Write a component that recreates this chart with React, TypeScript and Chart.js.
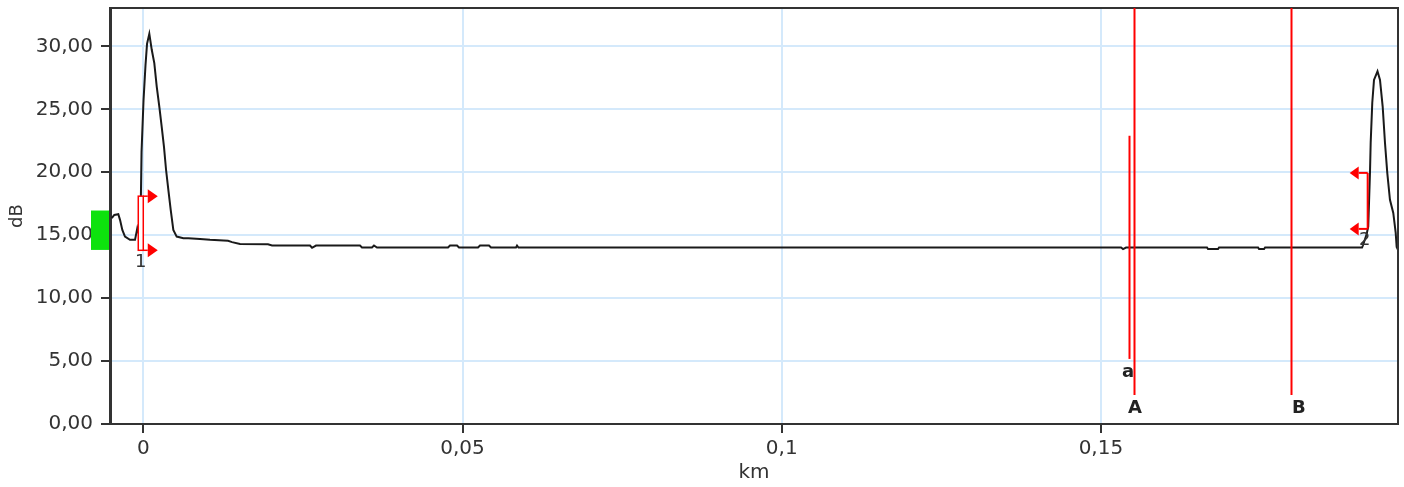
import React, { useEffect, useRef } from "react";
import { Chart, registerables } from "chart.js";

Chart.register(...registerables);

// OTDR trace: distance (km) and level (dB)
const distanceKm = [
  -0.00495, -0.00454, -0.00392, -0.00365, -0.00329, -0.00287, -0.00209, -0.0013,
  -0.00094, -0.00075, -0.00044, -0.00028, 0.00003, 0.00034, 0.00058, 0.00094,
  0.00132, 0.00172, 0.0021, 0.00251, 0.00288, 0.00324, 0.00356, 0.00392, 0.00429,
  0.0047, 0.00523, 0.00627, 0.00705, 0.00888, 0.01045, 0.01327, 0.0139, 0.01515,
  0.01953, 0.02016, 0.02611, 0.02643, 0.02705, 0.03394, 0.03425, 0.03582, 0.03613,
  0.0366, 0.04773, 0.04804, 0.04914, 0.04945, 0.05243, 0.05274, 0.05415, 0.05446,
  0.05838, 0.05854, 0.05877, 0.0872, 0.1185, 0.15316, 0.15347, 0.15394, 0.16662,
  0.16678, 0.16835, 0.16851, 0.17462, 0.17477, 0.17556, 0.17572, 0.19091, 0.19106,
  0.19163, 0.19188, 0.19215, 0.19226, 0.19251, 0.19278, 0.19333, 0.19372, 0.19414,
  0.1945, 0.19486, 0.19528, 0.1958, 0.19618, 0.19633, 0.19654,
];
const levelDb = [
  16.35, 16.61, 16.67, 16.22, 15.42, 14.89, 14.63, 14.63,
  15.56, 15.2, 16.0, 21.6, 25.7, 28.5, 30.2, 31.0,
  29.73, 28.67, 26.81, 25.2, 23.6, 22.0, 20.2, 18.6, 17.01,
  15.42, 14.89, 14.76, 14.76, 14.7, 14.63, 14.55, 14.45, 14.31,
  14.28, 14.18, 14.18, 14.0, 14.18, 14.18, 14.03, 14.03, 14.18,
  14.02, 14.02, 14.18, 14.18, 14.02, 14.02, 14.18, 14.18, 14.02,
  14.02, 14.17, 14.02, 14.02, 14.02, 14.02, 13.9, 14.02, 14.02,
  13.9, 13.9, 14.02, 14.02, 13.9, 13.9, 14.02, 14.02, 14.2,
  15.1, 15.68, 19.95, 22.34, 25.52, 27.34, 28.02, 27.34, 25.22,
  22.34, 19.95, 17.81, 16.77, 15.18, 14.07, 13.83,
];

// Axis ticks
const xTicks = [0, 0.05, 0.1, 0.15];
const xTickLabels = ["0", "0,05", "0,1", "0,15"];
const yTicks = [0, 5, 10, 15, 20, 25, 30];
const yTickLabels = ["0,00", "5,00", "10,00", "15,00", "20,00", "25,00", "30,00"];

// Cursors A / B and sub-cursor a
const cursorNames = ["A", "B"];
const cursorKm = [0.15511, 0.17977];
const cursorBottomDb = 2.3;
const subCursorName = "a";
const subCursorKm = 0.15448;
const subCursorTopDb = 22.9;
const subCursorBottomDb = 5.17;

// Event markers 1 and 2
const eventNames = ["1", "2"];
const eventKm = [-0.0004, 0.19179];
const eventTopDb = [18.1, 19.95];
const eventBottomDb = [13.8, 15.5];

// Launch level indicator (drawn beside the y axis)
const launchTopDb = 16.96;
const launchBottomDb = 13.83;

const RED = "#ff0000";
const DARK = "#333333";
const FONT = "'DejaVu Sans', Verdana, sans-serif";

const overlayPlugin = {
  id: "otdrOverlay",
  afterDraw(chart: any) {
    const { ctx, chartArea } = chart;
    const x = chart.scales.x;
    const y = chart.scales.y;
    ctx.save();

    // top and right frame
    ctx.strokeStyle = DARK;
    ctx.lineWidth = 2;
    ctx.beginPath();
    ctx.moveTo(chartArea.left, chartArea.top);
    ctx.lineTo(chartArea.right, chartArea.top);
    ctx.lineTo(chartArea.right, chartArea.bottom);
    ctx.stroke();

    // launch level block
    ctx.fillStyle = "#0de20d";
    const gTop = y.getPixelForValue(launchTopDb);
    const gBot = y.getPixelForValue(launchBottomDb);
    ctx.fillRect(chartArea.left - 19, gTop, 18, gBot - gTop);

    // sub-cursor a
    const ax = Math.round(x.getPixelForValue(subCursorKm)) + 0.5;
    ctx.strokeStyle = RED;
    ctx.lineWidth = 2;
    ctx.beginPath();
    ctx.moveTo(ax, y.getPixelForValue(subCursorTopDb));
    ctx.lineTo(ax, y.getPixelForValue(subCursorBottomDb));
    ctx.stroke();
    ctx.fillStyle = "#222";
    ctx.font = `bold 18px ${FONT}`;
    ctx.textAlign = "center";
    ctx.textBaseline = "middle";
    ctx.fillText(subCursorName, ax - 1.5, y.getPixelForValue(subCursorBottomDb) + 13);

    // cursors A and B
    cursorKm.forEach((km, i) => {
      const cx = Math.round(x.getPixelForValue(km)) + 0.5;
      const bottom = y.getPixelForValue(cursorBottomDb);
      ctx.strokeStyle = RED;
      ctx.lineWidth = 2;
      ctx.beginPath();
      ctx.moveTo(cx, chartArea.top);
      ctx.lineTo(cx, bottom);
      ctx.stroke();
      ctx.fillStyle = "#222";
      ctx.textAlign = i === 0 ? "center" : "left";
      ctx.fillText(cursorNames[i], cx + 0.5, bottom + 13);
    });

    // event markers
    eventKm.forEach((km, i) => {
      const ex = x.getPixelForValue(km);
      const top = y.getPixelForValue(eventTopDb[i]);
      const bot = y.getPixelForValue(eventBottomDb[i]);
      ctx.strokeStyle = RED;
      ctx.fillStyle = RED;
      ctx.lineWidth = 1.5;
      if (i === 0) {
        // start marker: hollow bar with arrows pointing right
        ctx.fillStyle = "#fff";
        ctx.fillRect(ex - 2.5, top, 5, bot - top);
        ctx.strokeRect(ex - 2.5, top, 5, bot - top);
        [top, bot].forEach((py) => {
          ctx.beginPath();
          ctx.moveTo(ex + 2.5, py);
          ctx.lineTo(ex + 7, py);
          ctx.stroke();
          ctx.fillStyle = RED;
          ctx.beginPath();
          ctx.moveTo(ex + 7, py - 7);
          ctx.lineTo(ex + 17, py);
          ctx.lineTo(ex + 7, py + 7);
          ctx.closePath();
          ctx.fill();
        });
        ctx.fillStyle = DARK;
        ctx.font = `18px ${FONT}`;
        ctx.textAlign = "center";
        ctx.fillText(eventNames[i], ex, bot + 12);
      } else {
        // end marker: bar with arrows pointing left
        ctx.lineWidth = 2;
        ctx.beginPath();
        ctx.moveTo(ex, top);
        ctx.lineTo(ex, bot);
        ctx.stroke();
        [top, bot].forEach((py) => {
          ctx.beginPath();
          ctx.moveTo(ex, py);
          ctx.lineTo(ex - 9, py);
          ctx.stroke();
          ctx.beginPath();
          ctx.moveTo(ex - 9, py - 6.5);
          ctx.lineTo(ex - 18, py);
          ctx.lineTo(ex - 9, py + 6.5);
          ctx.closePath();
          ctx.fill();
        });
        ctx.fillStyle = DARK;
        ctx.font = `18px ${FONT}`;
        ctx.textAlign = "center";
        ctx.fillText(eventNames[i], ex - 3, bot + 11);
      }
    });

    ctx.restore();
  },
};

export default function App() {
  const canvasRef = useRef<HTMLCanvasElement | null>(null);

  useEffect(() => {
    const canvas = canvasRef.current;
    if (!canvas) return;
    const chart = new Chart(canvas, {
      type: "scatter",
      data: {
        datasets: [
          {
            data: distanceKm.map((km, i) => ({ x: km, y: levelDb[i] })),
            showLine: true,
            borderColor: "#1a1a1a",
            borderWidth: 2,
            pointRadius: 0,
            tension: 0,
          },
        ],
      },
      options: {
        animation: false,
        responsive: true,
        maintainAspectRatio: false,
        layout: { padding: { left: 0, right: 6, top: 8, bottom: 0 } },
        plugins: {
          legend: { display: false },
          tooltip: { enabled: false },
        },
        scales: {
          x: {
            type: "linear",
            min: -0.00522,
            max: 0.19654,
            afterBuildTicks: (scale: any) => {
              scale.ticks = xTicks.map((v) => ({ value: v }));
            },
            afterFit: (scale: any) => {
              scale.height = 63;
              scale.paddingLeft = 0;
              scale.paddingRight = 0;
            },
            ticks: {
              callback: (_v: any, i: number) => xTickLabels[i],
              color: DARK,
              font: { family: FONT, size: 20 },
              padding: 4,
              maxRotation: 0,
            },
            grid: {
              color: "#d4e9fb",
              lineWidth: 2,
              tickLength: 9,
              tickColor: DARK,
              tickWidth: 2,
            },
            border: { display: true, color: DARK, width: 2 },
            title: {
              display: true,
              text: "km",
              color: DARK,
              font: { family: FONT, size: 20 },
              padding: { top: 0, bottom: 2 },
            },
          },
          y: {
            type: "linear",
            min: 0,
            max: 33.05,
            afterBuildTicks: (scale: any) => {
              scale.ticks = yTicks.map((v) => ({ value: v }));
            },
            afterFit: (scale: any) => {
              scale.width = 110;
              scale.paddingTop = 0;
              scale.paddingBottom = 0;
            },
            ticks: {
              callback: (_v: any, i: number) => yTickLabels[i],
              color: DARK,
              font: { family: FONT, size: 20 },
              padding: 8,
            },
            grid: {
              color: "#d4e9fb",
              lineWidth: 2,
              tickLength: 9,
              tickColor: DARK,
              tickWidth: 2,
            },
            border: { display: true, color: DARK, width: 3 },
            title: {
              display: true,
              text: "dB",
              color: DARK,
              font: { family: FONT, size: 18 },
              padding: { top: 7, bottom: 0 },
            },
          },
        },
      },
      plugins: [overlayPlugin],
    } as any);
    return () => chart.destroy();
  }, []);

  return (
    <div style={{ position: "absolute", left: 0, top: 0, width: 1404, height: 487 }}>
      <canvas ref={canvasRef} />
    </div>
  );
}
